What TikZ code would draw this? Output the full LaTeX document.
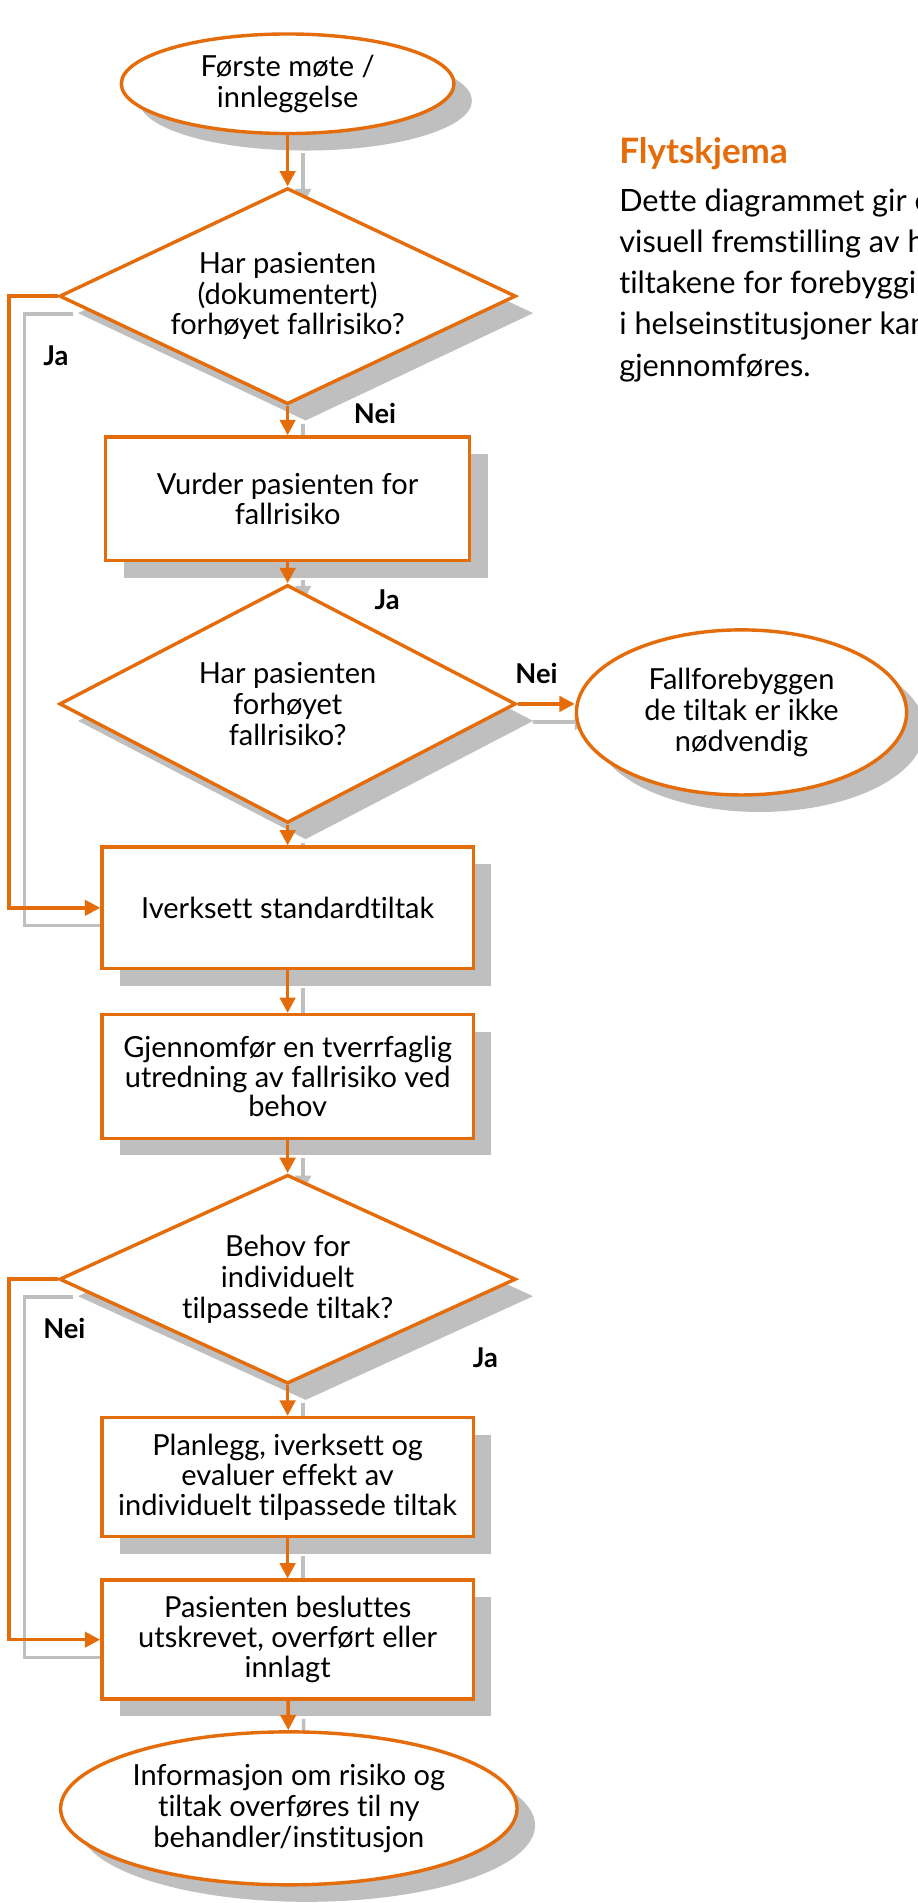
\documentclass[tikz,border=0pt]{standalone}
\usepackage{fontspec}
\setmainfont{Lato}[Ligatures=NoCommon]
\usepackage{xcolor}
\usepackage{tikz}
\usetikzlibrary{shapes.geometric, arrows.meta, shadows, backgrounds}
\definecolor{hsorange}{RGB}{228,108,10}
\definecolor{skyggegra}{RGB}{191,191,191}

% alle forbindelser, tegnes to ganger (skygge + oransje)
\newcommand{\forbindelser}[1]{%
  \draw[#1] (start) -- (d1);
  \draw[#1] (d1) -- (b1);
  \draw[#1] (b1) -- (d2);
  \draw[#1] (d2.east) -- (d2.east -| slutt1.west);
  \draw[#1] (d2) -- (b3);
  \draw[#1] (d1.west) -- ++(-40,0) |- (b3.west);
  \draw[#1] (b3) -- (b4);
  \draw[#1] (b4) -- (d3);
  \draw[#1] (d3) -- (b5);
  \draw[#1] (d3.west) -- ++(-40,0) |- (b6.west);
  \draw[#1] (b5) -- (b6);
  \draw[#1] (b6) -- (slutt2);
}

\begin{document}
\begin{tikzpicture}[x=0.025cm, y=-0.025cm,
    skygge/.style={drop shadow={shadow xshift=0.37cm, shadow yshift=-0.35cm, fill=skyggegra, opacity=1}},
    boks/.style={rectangle, draw=hsorange, line width=2pt, fill=white, skygge, minimum width=7.65cm, minimum height=2.5cm, align=center, inner sep=2pt, font=\fontsize{17pt}{17.5pt}\selectfont},
    beslutning/.style={diamond, draw=hsorange, line width=2pt, fill=white, skygge, minimum width=9.4cm, aspect=2.1, inner sep=0pt, align=center, font=\fontsize{17pt}{18pt}\selectfont},
    terminal/.style={ellipse, draw=hsorange, line width=2pt, fill=white, skygge, inner sep=0pt, align=center, font=\fontsize{17pt}{18pt}\selectfont},
    pil/.style={draw=hsorange, line width=2pt, -{Triangle[length=9pt,width=9pt]}},
    skyggepil/.style={draw=skyggegra, line width=2pt, -{Triangle[length=9pt,width=9pt]}},
    etikett/.style={font=\bfseries\fontsize{16pt}{18pt}\selectfont}
]
\useasboundingbox (0,0) rectangle (756,1568);

\node[terminal, minimum width=6.85cm, minimum height=2.05cm] (start) at (237,69) {Første møte /\\ innleggelse};
\node[beslutning, minimum height=4.45cm] (d1) at (237,244) {Har pasienten\\ (dokumentert)\\ forhøyet fallrisiko?};
\node[boks, minimum width=7.5cm, minimum height=2.55cm] (b1) at (237,411) {Vurder pasienten for\\ fallrisiko};
\node[beslutning, minimum height=4.9cm] (d2) at (237,580) {Har pasienten\\ forhøyet\\ fallrisiko?};
\node[terminal, minimum width=6.8cm, minimum height=3.4cm] (slutt1) at (611,587) {Fallforebyggen\\ de tiltak er ikke\\ nødvendig};
\node[boks] (b3) at (237,748) {Iverksett standardtiltak};
\node[boks, minimum height=2.55cm] (b4) at (237,887) {Gjennomfør en tverrfaglig\\ utredning av fallrisiko ved\\ behov};
\node[beslutning, minimum height=4.3cm] (d3) at (237,1054) {Behov for\\ individuelt\\ tilpassede tiltak?};
\node[boks, minimum height=2.45cm] (b5) at (237,1217) {Planlegg, iverksett og\\ evaluer effekt av\\ individuelt tilpassede tiltak};
\node[boks, minimum height=2.45cm] (b6) at (237,1351) {Pasienten besluttes\\ utskrevet, overført eller\\ innlagt};
\node[terminal, minimum width=9.4cm, minimum height=3.15cm] (slutt2) at (238,1490) {Informasjon om risiko og\\ tiltak overføres til ny\\ behandler/institusjon};

\begin{scope}[on background layer]
  \fill[white] (0,0) rectangle (756,1568);
  \begin{scope}[transform canvas={xshift=0.32cm, yshift=-0.37cm}]
    \forbindelser{skyggepil}
  \end{scope}
\end{scope}
\forbindelser{pil}

\node[etikett] (ja1) at (46,293) {Ja};
\node[etikett] (nei1) at (309,341) {Nei};
\node[etikett] (ja2) at (319,494) {Ja};
\node[etikett] (nei2) at (442,555) {Nei};
\node[etikett] (nei3) at (53,1095) {Nei};
\node[etikett] (ja3) at (400,1119) {Ja};

\node[anchor=west, inner sep=0pt, text=hsorange, font=\bfseries\fontsize{20.5pt}{24pt}\selectfont] (tittel) at (510,127) {Flytskjema};
\node[anchor=north west, align=left, inner sep=0pt, font=\fontsize{18pt}{24.2pt}\selectfont] (tekst) at (510,155)
  {Dette diagrammet gir en\\ visuell fremstilling av hvordan\\ tiltakene for forebygging av fall\\ i helseinstitusjoner kan\\ gjennomføres.};
\end{tikzpicture}
\end{document}
